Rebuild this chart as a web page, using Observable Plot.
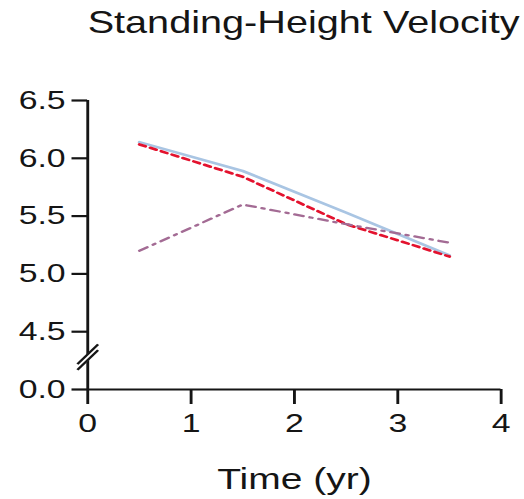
<!DOCTYPE html>
<html><head><meta charset="utf-8">
<script src="https://cdn.jsdelivr.net/npm/d3@7"></script>
<script src="https://cdn.jsdelivr.net/npm/@observablehq/plot@0.6"></script>
<style>
html,body{margin:0;padding:0;background:#fff;}
#wrap{width:403px;height:499px;transform:scaleX(1.3);transform-origin:0 0;}
</style></head><body><div id="wrap"></div>
<script>
const title = "Standing-Height Velocity";
const xLabel = "Time (yr)";
const times = [0.5, 1.5, 2.5, 3.5];
const seriesBlue = [6.14, 5.89, 5.53, 5.16];
const seriesRed = [6.12, 5.84, 5.43, 5.15];
const seriesPurple = [5.20, 5.60, 5.43, 5.27];
const xTicks = [0, 1, 2, 3, 4];
const xTickLabels = ["0", "1", "2", "3", "4"];
const yTickValues = [4.0, 4.5, 5.0, 5.5, 6.0, 6.5];
const yTickLabels = ["0.0", "4.5", "5.0", "5.5", "6.0", "6.5"];
const breakSlashes = [
  {x1: -0.1, y1: 4.17, x2: 0.1, y2: 4.34},
  {x1: -0.1, y1: 4.22, x2: 0.1, y2: 4.39}
];
const breakGap = [{x1: -0.06, y1: 4.23, x2: 0.06, y2: 4.33}];

const rows = (vals) => times.map((t, i) => ({t, v: vals[i]}));
const ink = "#151515";

const chart = Plot.plot({
  width: 403,
  height: 499,
  marginLeft: 67,
  marginRight: 18,
  marginTop: 100,
  marginBottom: 110,
  style: {fontFamily: "'Liberation Sans', Arial, sans-serif", background: "#fff", color: ink},
  x: {domain: [0, 4]},
  y: {domain: [4, 6.5]},
  marks: [
    Plot.axisY({ticks: yTickValues, tickFormat: (d) => yTickLabels[yTickValues.indexOf(d)], tickSize: 12, tickPadding: 5, fontSize: 26, strokeWidth: 2.2, label: null, stroke: ink}),
    Plot.axisX({ticks: xTicks, tickFormat: (d) => xTickLabels[xTicks.indexOf(d)], tickSize: 15, tickPadding: 9, fontSize: 26, strokeWidth: 2.2, label: null, stroke: ink}),
    Plot.ruleX([0], {y1: 4, y2: 6.5, stroke: ink, strokeWidth: 2.2}),
    Plot.ruleY([4], {x1: 0, x2: 4, stroke: ink, strokeWidth: 2.2}),
    Plot.link(breakGap, {x1: "x1", y1: "y1", x2: "x2", y2: "y2", stroke: "#fff", strokeWidth: 5}),
    Plot.link(breakSlashes, {x1: "x1", y1: "y1", x2: "x2", y2: "y2", stroke: ink, strokeWidth: 2}),
    Plot.line(rows(seriesBlue), {x: "t", y: "v", stroke: "#a9c5e3", strokeWidth: 2.6}),
    Plot.line(rows(seriesRed), {x: "t", y: "v", stroke: "#e3122e", strokeWidth: 2.6, strokeDasharray: "5,4"}),
    Plot.line(rows(seriesPurple), {x: "t", y: "v", stroke: "#a36b94", strokeWidth: 2.3, strokeDasharray: "7,5,2,5"}),
    Plot.text([title], {text: (d) => d, frameAnchor: "top", lineAnchor: "top", dx: 7, dy: -89, fontSize: 30.5, fill: ink}),
    Plot.text([xLabel], {text: (d) => d, frameAnchor: "bottom", lineAnchor: "top", dy: 78, fontSize: 30, fill: ink})
  ]
});
document.getElementById("wrap").appendChild(chart);
</script></body></html>
